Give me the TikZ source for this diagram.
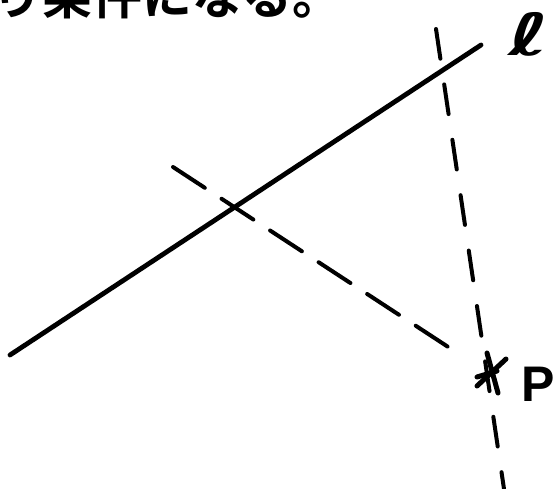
\documentclass[tikz,border=0pt]{standalone}
\usepackage{fontspec}
\usetikzlibrary{calc}
\newfontfamily\jpfont{Noto Sans CJK JP Bold}
\newfontfamily\labfont{Liberation Sans}
\newfontfamily\ellfont{DejaVu Sans}
\begin{document}
\begin{tikzpicture}[x=1pt,y=-1pt,
  solidline/.style={line width=4.8pt,line cap=round},
  dashline/.style={line width=4pt,line cap=round,dash pattern=on 32pt off 24pt},
  starstroke/.style={line width=5pt,line cap=round}]
\useasboundingbox (0,0) rectangle (556,489);
\clip (0,0) rectangle (556,489);
\fill[white] (0,0) rectangle (556,489);
% top text (cut off at the top edge, as in the reference)
\node[anchor=base west,inner sep=0pt] (txt) at (-8,15) {\jpfont\fontsize{50}{50}\selectfont り条件になる。};
% line l
\coordinate (L1) at (10,355);
\coordinate (L2) at (481,45);
\draw[solidline] (L1) -- (L2);
\node[inner sep=0pt,xscale=1.5] (ell) at (529,34) {\ellfont\bfseries\fontsize{58}{58}\selectfont ℓ};
% point P
\coordinate (P) at (488,373);
\coordinate (D1) at (173,167);
\draw[dashline,dash pattern=on 38pt off 20pt] (D1) -- ($(P)!0.08!(D1)$);
\coordinate (V1) at (436,29);
\coordinate (V2) at (504,489);
\draw[dashline,dash pattern=on 30pt off 26pt] (V1) -- (V2);
% star
\draw[starstroke] (487,353) -- (498,393);
\draw[starstroke] (477,386) -- (506,359);
\draw[starstroke] (477,377) -- (497,371);
\node[inner sep=0pt,anchor=west] (plabel) at (521,384) {\labfont\bfseries\fontsize{50}{50}\selectfont P};
\end{tikzpicture}
\end{document}
